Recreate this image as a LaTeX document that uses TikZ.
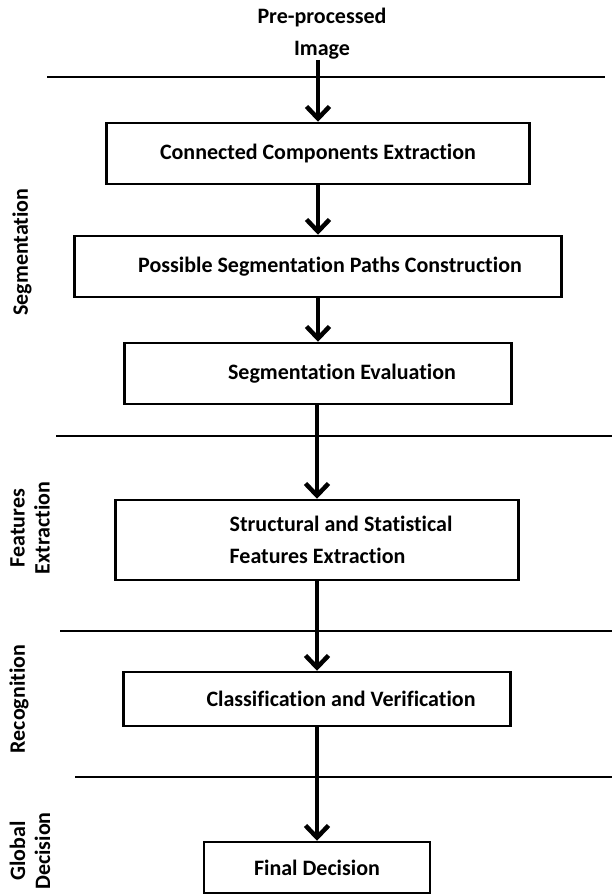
\documentclass[tikz,border=0pt]{standalone}
\usepackage{fontspec}
\setmainfont{Carlito}[Ligatures=NoCommon]
\usetikzlibrary{arrows.meta}
\tikzset{>=stealth}
\tikzset{
  box/.style={draw, line width=2.5pt, inner sep=0pt, minimum height=61pt,
    align=center, font=\fontsize{22}{31.5}\selectfont\bfseries},
  tag/.style={rotate=90, align=center, inner sep=0pt,
    font=\fontsize{22}{25}\selectfont\bfseries},
  flow/.style={line width=4.5pt, -{Straight Barb[length=12pt,width=23pt]}},
  rule/.style={line width=2.5pt}
}

\begin{document}
\begin{tikzpicture}[x=1pt,y=-1pt]
\useasboundingbox (0,0) rectangle (612,894);
\node[align=center, inner sep=0pt, font=\fontsize{22}{32}\selectfont\bfseries]
  (ppi) at (322,34) {Pre-processed\\Image};
\node[box, minimum width=423pt] (cce) at (318,153.5)
  {Connected Components Extraction};
\node[box, minimum width=487pt] (pspc) at (318,266.5)
  {\hspace*{24pt}Possible Segmentation Paths Construction};
\node[box, minimum width=387pt] (seval) at (318,373.5)
  {\hspace*{48pt}Segmentation Evaluation};
\node[box, minimum width=403pt, minimum height=80pt, align=left] (ssfe) at (317,540)
  {\hspace*{48pt}Structural and Statistical\\\hspace*{48pt}Features Extraction};
\node[box, minimum width=387pt, minimum height=54pt] (clver) at (317,699)
  {\hspace*{48pt}Classification and Verification};
\node[box, minimum width=226pt, minimum height=51pt] (fdec) at (317,867.5)
  {Final Decision};
% stage names on the left
\node[tag] (seg) at (22,252) {Segmentation};
\node[tag] (fex) at (30,528) {Features\\Extraction};
\node[tag] (rec) at (19,699) {Recognition};
\node[tag] (gdec) at (30,851) {Global\\Decision};
% separators
\draw[rule] (47,77) -- (605,77);
\draw[rule] (56,436) -- (612,436);
\draw[rule] (60,631) -- (612,631);
\draw[rule] (75,777) -- (612,777);
% flow
\draw[flow] (ppi.south -| cce.north) -- (cce.north);
\draw[flow] (cce.south) -- (pspc.north);
\draw[flow] (pspc.south) -- (seval.north);
\draw[flow] (seval.south -| ssfe.north) -- (ssfe.north);
\draw[flow] (ssfe.south) -- (clver.north);
\draw[flow] (clver.south) -- (fdec.north);
\end{tikzpicture}
\end{document}
